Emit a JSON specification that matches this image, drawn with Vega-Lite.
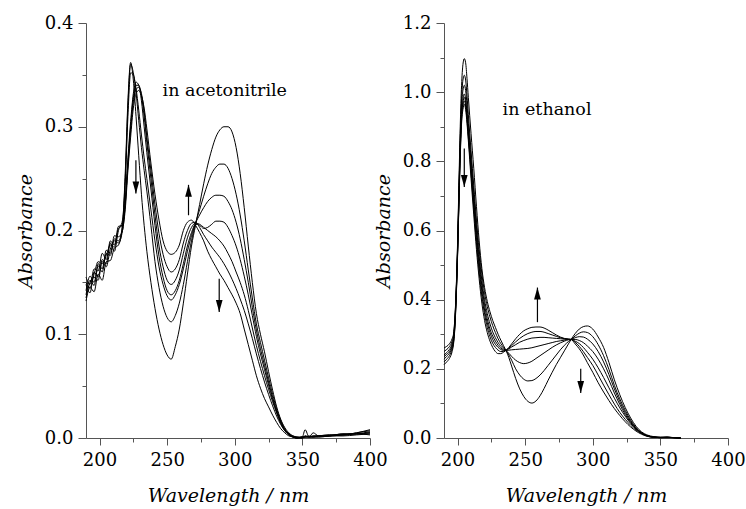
{
"$schema":"https://vega.github.io/schema/vega-lite/v6.json",
"background":"white",
"padding":{"left":16,"top":14,"right":2,"bottom":3},
"bounds":"flush",
"spacing":74,
"config":{
 "font":"DejaVu Serif",
 "view":{"stroke":null},
 "text":{"font":"DejaVu Serif"},
 "axis":{"grid":false,"domainColor":"#555","tickColor":"#555","domainWidth":1,"tickWidth":1,"labelColor":"#000","labelFont":"DejaVu Serif","labelFontSize":18,"titleFont":"DejaVu Serif","titleFontSize":19,"titleFontStyle":"italic","titleFontWeight":"normal","titleColor":"#000","labelOverlap":false,"labelFlush":false}
},
"datasets":{
"ace":[
{"wl":190,"a1":0.132,"a2":0.148,"a3":0.138,"a4":0.155,"a5":0.142,"a6":0.150,"a7":0.135},
{"wl":193,"a1":0.145,"a2":0.140,"a3":0.152,"a4":0.148,"a5":0.156,"a6":0.145,"a7":0.150},
{"wl":196,"a1":0.141,"a2":0.160,"a3":0.147,"a4":0.163,"a5":0.150,"a6":0.158,"a7":0.155},
{"wl":199,"a1":0.158,"a2":0.155,"a3":0.166,"a4":0.161,"a5":0.168,"a6":0.170,"a7":0.152},
{"wl":202,"a1":0.152,"a2":0.172,"a3":0.160,"a4":0.178,"a5":0.163,"a6":0.168,"a7":0.170},
{"wl":205,"a1":0.170,"a2":0.168,"a3":0.178,"a4":0.172,"a5":0.181,"a6":0.176,"a7":0.165},
{"wl":208,"a1":0.171,"a2":0.188,"a3":0.176,"a4":0.190,"a5":0.178,"a6":0.186,"a7":0.182},
{"wl":211,"a1":0.183,"a2":0.180,"a3":0.192,"a4":0.186,"a5":0.195,"a6":0.184,"a7":0.190},
{"wl":214,"a1":0.186,"a2":0.200,"a3":0.190,"a4":0.204,"a5":0.194,"a6":0.202,"a7":0.188},
{"wl":217,"a1":0.205,"a2":0.21,"a3":0.205,"a4":0.205,"a5":0.2,"a6":0.205,"a7":0.2},
{"wl":219,"a1":0.255,"a2":0.25,"a3":0.245,"a4":0.23,"a5":0.225,"a6":0.225,"a7":0.22},
{"wl":221,"a1":0.325,"a2":0.32,"a3":0.31,"a4":0.27,"a5":0.265,"a6":0.262,"a7":0.258},
{"wl":223,"a1":0.362,"a2":0.36,"a3":0.352,"a4":0.305,"a5":0.3,"a6":0.296,"a7":0.29},
{"wl":225,"a1":0.345,"a2":0.352,"a3":0.35,"a4":0.332,"a5":0.328,"a6":0.324,"a7":0.318},
{"wl":227,"a1":0.31,"a2":0.333,"a3":0.337,"a4":0.343,"a5":0.34,"a6":0.336,"a7":0.332},
{"wl":229,"a1":0.272,"a2":0.306,"a3":0.316,"a4":0.34,"a5":0.34,"a6":0.338,"a7":0.335},
{"wl":231,"a1":0.235,"a2":0.28,"a3":0.292,"a4":0.325,"a5":0.33,"a6":0.332,"a7":0.33},
{"wl":233,"a1":0.205,"a2":0.258,"a3":0.27,"a4":0.30,"a5":0.31,"a6":0.315,"a7":0.318},
{"wl":235,"a1":0.18,"a2":0.238,"a3":0.25,"a4":0.275,"a5":0.285,"a6":0.29,"a7":0.298},
{"wl":238,"a1":0.15,"a2":0.205,"a3":0.22,"a4":0.24,"a5":0.25,"a6":0.258,"a7":0.265},
{"wl":241,"a1":0.125,"a2":0.17,"a3":0.19,"a4":0.205,"a5":0.215,"a6":0.225,"a7":0.235},
{"wl":244,"a1":0.105,"a2":0.145,"a3":0.165,"a4":0.175,"a5":0.185,"a6":0.197,"a7":0.21},
{"wl":247,"a1":0.09,"a2":0.127,"a3":0.148,"a4":0.155,"a5":0.165,"a6":0.177,"a7":0.19},
{"wl":250,"a1":0.08,"a2":0.116,"a3":0.137,"a4":0.142,"a5":0.152,"a6":0.165,"a7":0.18},
{"wl":253,"a1":0.076,"a2":0.112,"a3":0.133,"a4":0.138,"a5":0.148,"a6":0.16,"a7":0.177},
{"wl":256,"a1":0.088,"a2":0.118,"a3":0.138,"a4":0.142,"a5":0.152,"a6":0.163,"a7":0.179},
{"wl":259,"a1":0.105,"a2":0.13,"a3":0.148,"a4":0.152,"a5":0.162,"a6":0.172,"a7":0.186},
{"wl":262,"a1":0.13,"a2":0.148,"a3":0.163,"a4":0.168,"a5":0.178,"a6":0.188,"a7":0.2},
{"wl":265,"a1":0.158,"a2":0.17,"a3":0.18,"a4":0.185,"a5":0.193,"a6":0.2,"a7":0.208},
{"wl":268,"a1":0.185,"a2":0.19,"a3":0.195,"a4":0.198,"a5":0.203,"a6":0.207,"a7":0.21},
{"wl":271,"a1":0.205,"a2":0.207,"a3":0.207,"a4":0.206,"a5":0.207,"a6":0.208,"a7":0.205},
{"wl":274,"a1":0.225,"a2":0.22,"a3":0.215,"a4":0.205,"a5":0.206,"a6":0.203,"a7":0.198},
{"wl":277,"a1":0.245,"a2":0.233,"a3":0.222,"a4":0.202,"a5":0.203,"a6":0.196,"a7":0.19},
{"wl":280,"a1":0.263,"a2":0.245,"a3":0.228,"a4":0.203,"a5":0.2,"a6":0.19,"a7":0.18},
{"wl":283,"a1":0.278,"a2":0.255,"a3":0.232,"a4":0.206,"a5":0.197,"a6":0.184,"a7":0.172},
{"wl":286,"a1":0.29,"a2":0.261,"a3":0.234,"a4":0.209,"a5":0.194,"a6":0.179,"a7":0.165},
{"wl":289,"a1":0.297,"a2":0.264,"a3":0.234,"a4":0.209,"a5":0.19,"a6":0.174,"a7":0.158},
{"wl":292,"a1":0.3,"a2":0.264,"a3":0.233,"a4":0.208,"a5":0.185,"a6":0.168,"a7":0.152},
{"wl":295,"a1":0.3,"a2":0.26,"a3":0.228,"a4":0.203,"a5":0.178,"a6":0.161,"a7":0.145},
{"wl":298,"a1":0.295,"a2":0.25,"a3":0.22,"a4":0.195,"a5":0.17,"a6":0.153,"a7":0.138},
{"wl":301,"a1":0.28,"a2":0.235,"a3":0.208,"a4":0.185,"a5":0.16,"a6":0.144,"a7":0.13},
{"wl":304,"a1":0.255,"a2":0.215,"a3":0.192,"a4":0.172,"a5":0.15,"a6":0.134,"a7":0.12},
{"wl":307,"a1":0.222,"a2":0.19,"a3":0.172,"a4":0.156,"a5":0.138,"a6":0.123,"a7":0.105},
{"wl":310,"a1":0.185,"a2":0.162,"a3":0.15,"a4":0.138,"a5":0.123,"a6":0.11,"a7":0.09},
{"wl":313,"a1":0.15,"a2":0.135,"a3":0.126,"a4":0.118,"a5":0.106,"a6":0.096,"a7":0.075},
{"wl":316,"a1":0.12,"a2":0.11,"a3":0.104,"a4":0.098,"a5":0.089,"a6":0.081,"a7":0.06},
{"wl":319,"a1":0.1,"a2":0.092,"a3":0.086,"a4":0.081,"a5":0.074,"a6":0.067,"a7":0.048},
{"wl":322,"a1":0.083,"a2":0.075,"a3":0.07,"a4":0.066,"a5":0.06,"a6":0.054,"a7":0.038},
{"wl":325,"a1":0.064,"a2":0.058,"a3":0.054,"a4":0.051,"a5":0.047,"a6":0.042,"a7":0.03},
{"wl":328,"a1":0.046,"a2":0.042,"a3":0.039,"a4":0.037,"a5":0.035,"a6":0.031,"a7":0.022},
{"wl":331,"a1":0.03,"a2":0.028,"a3":0.026,"a4":0.025,"a5":0.024,"a6":0.021,"a7":0.015},
{"wl":334,"a1":0.018,"a2":0.017,"a3":0.016,"a4":0.015,"a5":0.014,"a6":0.013,"a7":0.009},
{"wl":337,"a1":0.01,"a2":0.009,"a3":0.008,"a4":0.008,"a5":0.007,"a6":0.007,"a7":0.005},
{"wl":340,"a1":0.005,"a2":0.004,"a3":0.004,"a4":0.004,"a5":0.003,"a6":0.003,"a7":0.002},
{"wl":343,"a1":0.002,"a2":0.002,"a3":0.001,"a4":0.001,"a5":0.001,"a6":0.001,"a7":0.001},
{"wl":346,"a1":0.001,"a2":0.001,"a3":0,"a4":0,"a5":0,"a6":0,"a7":0},
{"wl":350,"a1":0.001,"a2":0,"a3":0.001,"a4":0,"a5":0.001,"a6":0,"a7":0.001},
{"wl":352,"a1":0.001,"a2":0.002,"a3":0.008,"a4":0.001,"a5":0.001,"a6":0.002,"a7":0.001},
{"wl":355,"a1":0.001,"a2":0.001,"a3":0.001,"a4":0.002,"a5":0.001,"a6":0.001,"a7":0.001},
{"wl":358,"a1":0.002,"a2":0.001,"a3":0.001,"a4":0.001,"a5":0.005,"a6":0.001,"a7":0.002},
{"wl":362,"a1":0.002,"a2":0.002,"a3":0.001,"a4":0.002,"a5":0.002,"a6":0.001,"a7":0.002},
{"wl":370,"a1":0.002,"a2":0.003,"a3":0.002,"a4":0.002,"a5":0.003,"a6":0.002,"a7":0.002},
{"wl":380,"a1":0.003,"a2":0.003,"a3":0.004,"a4":0.002,"a5":0.003,"a6":0.004,"a7":0.003},
{"wl":390,"a1":0.004,"a2":0.005,"a3":0.004,"a4":0.003,"a5":0.005,"a6":0.004,"a7":0.004},
{"wl":400,"a1":0.006,"a2":0.008,"a3":0.005,"a4":0.004,"a5":0.007,"a6":0.005,"a7":0.003}
],
"eth":[
{"wl":190,"a1":0.26,"a2":0.25,"a3":0.24,"a4":0.235,"a5":0.228,"a6":0.22,"a7":0.212},
{"wl":192,"a1":0.265,"a2":0.256,"a3":0.247,"a4":0.242,"a5":0.236,"a6":0.228,"a7":0.22},
{"wl":194,"a1":0.272,"a2":0.264,"a3":0.256,"a4":0.25,"a5":0.245,"a6":0.238,"a7":0.23},
{"wl":196,"a1":0.287,"a2":0.28,"a3":0.273,"a4":0.268,"a5":0.263,"a6":0.257,"a7":0.25},
{"wl":197,"a1":0.30,"a2":0.295,"a3":0.29,"a4":0.285,"a5":0.28,"a6":0.275,"a7":0.27},
{"wl":198,"a1":0.345,"a2":0.34,"a3":0.335,"a4":0.33,"a5":0.325,"a6":0.32,"a7":0.315},
{"wl":199,"a1":0.43,"a2":0.425,"a3":0.42,"a4":0.415,"a5":0.41,"a6":0.405,"a7":0.4},
{"wl":200,"a1":0.56,"a2":0.55,"a3":0.54,"a4":0.535,"a5":0.53,"a6":0.525,"a7":0.52},
{"wl":201,"a1":0.73,"a2":0.71,"a3":0.70,"a4":0.69,"a5":0.68,"a6":0.675,"a7":0.67},
{"wl":202,"a1":0.90,"a2":0.87,"a3":0.855,"a4":0.84,"a5":0.83,"a6":0.82,"a7":0.81},
{"wl":203,"a1":1.02,"a2":0.98,"a3":0.96,"a4":0.94,"a5":0.93,"a6":0.92,"a7":0.91},
{"wl":204,"a1":1.08,"a2":1.035,"a3":1.005,"a4":0.98,"a5":0.97,"a6":0.96,"a7":0.95},
{"wl":205,"a1":1.097,"a2":1.049,"a3":1.02,"a4":0.995,"a5":0.985,"a6":0.975,"a7":0.965},
{"wl":206,"a1":1.085,"a2":1.035,"a3":1.005,"a4":0.98,"a5":0.97,"a6":0.96,"a7":0.95},
{"wl":207,"a1":1.04,"a2":0.99,"a3":0.965,"a4":0.94,"a5":0.93,"a6":0.92,"a7":0.91},
{"wl":208,"a1":0.985,"a2":0.935,"a3":0.91,"a4":0.89,"a5":0.88,"a6":0.87,"a7":0.86},
{"wl":210,"a1":0.88,"a2":0.83,"a3":0.81,"a4":0.79,"a5":0.78,"a6":0.765,"a7":0.75},
{"wl":212,"a1":0.78,"a2":0.73,"a3":0.71,"a4":0.69,"a5":0.675,"a6":0.665,"a7":0.645},
{"wl":214,"a1":0.67,"a2":0.63,"a3":0.61,"a4":0.595,"a5":0.58,"a6":0.565,"a7":0.545},
{"wl":216,"a1":0.57,"a2":0.545,"a3":0.525,"a4":0.51,"a5":0.495,"a6":0.48,"a7":0.46},
{"wl":218,"a1":0.49,"a2":0.475,"a3":0.455,"a4":0.44,"a5":0.425,"a6":0.41,"a7":0.39},
{"wl":220,"a1":0.435,"a2":0.42,"a3":0.40,"a4":0.385,"a5":0.37,"a6":0.358,"a7":0.34},
{"wl":222,"a1":0.395,"a2":0.38,"a3":0.36,"a4":0.345,"a5":0.333,"a6":0.32,"a7":0.305},
{"wl":224,"a1":0.365,"a2":0.35,"a3":0.33,"a4":0.315,"a5":0.305,"a6":0.293,"a7":0.28},
{"wl":226,"a1":0.34,"a2":0.325,"a3":0.307,"a4":0.295,"a5":0.285,"a6":0.274,"a7":0.262},
{"wl":228,"a1":0.32,"a2":0.305,"a3":0.29,"a4":0.28,"a5":0.271,"a6":0.262,"a7":0.25},
{"wl":230,"a1":0.30,"a2":0.287,"a3":0.276,"a4":0.268,"a5":0.262,"a6":0.254,"a7":0.244},
{"wl":232,"a1":0.283,"a2":0.273,"a3":0.265,"a4":0.26,"a5":0.256,"a6":0.25,"a7":0.244},
{"wl":234,"a1":0.267,"a2":0.262,"a3":0.258,"a4":0.255,"a5":0.253,"a6":0.25,"a7":0.248},
{"wl":236,"a1":0.252,"a2":0.252,"a3":0.252,"a4":0.253,"a5":0.254,"a6":0.254,"a7":0.254},
{"wl":238,"a1":0.232,"a2":0.24,"a3":0.245,"a4":0.254,"a5":0.258,"a6":0.26,"a7":0.262},
{"wl":240,"a1":0.208,"a2":0.225,"a3":0.236,"a4":0.255,"a5":0.263,"a6":0.267,"a7":0.272},
{"wl":243,"a1":0.172,"a2":0.2,"a3":0.225,"a4":0.256,"a5":0.27,"a6":0.278,"a7":0.287},
{"wl":246,"a1":0.142,"a2":0.182,"a3":0.218,"a4":0.257,"a5":0.277,"a6":0.288,"a7":0.30},
{"wl":249,"a1":0.12,"a2":0.17,"a3":0.215,"a4":0.258,"a5":0.282,"a6":0.296,"a7":0.31},
{"wl":252,"a1":0.106,"a2":0.165,"a3":0.217,"a4":0.259,"a5":0.286,"a6":0.302,"a7":0.316},
{"wl":255,"a1":0.101,"a2":0.166,"a3":0.222,"a4":0.261,"a5":0.289,"a6":0.306,"a7":0.32},
{"wl":258,"a1":0.107,"a2":0.172,"a3":0.23,"a4":0.264,"a5":0.29,"a6":0.308,"a7":0.321},
{"wl":261,"a1":0.122,"a2":0.182,"a3":0.238,"a4":0.267,"a5":0.291,"a6":0.308,"a7":0.321},
{"wl":264,"a1":0.143,"a2":0.195,"a3":0.246,"a4":0.27,"a5":0.291,"a6":0.306,"a7":0.318},
{"wl":267,"a1":0.167,"a2":0.21,"a3":0.254,"a4":0.273,"a5":0.29,"a6":0.302,"a7":0.312},
{"wl":270,"a1":0.19,"a2":0.225,"a3":0.262,"a4":0.276,"a5":0.289,"a6":0.298,"a7":0.305},
{"wl":273,"a1":0.212,"a2":0.24,"a3":0.269,"a4":0.279,"a5":0.288,"a6":0.294,"a7":0.298},
{"wl":276,"a1":0.232,"a2":0.255,"a3":0.275,"a4":0.281,"a5":0.287,"a6":0.29,"a7":0.292},
{"wl":279,"a1":0.252,"a2":0.268,"a3":0.28,"a4":0.283,"a5":0.286,"a6":0.287,"a7":0.288},
{"wl":282,"a1":0.272,"a2":0.279,"a3":0.284,"a4":0.285,"a5":0.285,"a6":0.286,"a7":0.286},
{"wl":284,"a1":0.285,"a2":0.285,"a3":0.285,"a4":0.285,"a5":0.285,"a6":0.285,"a7":0.285},
{"wl":287,"a1":0.302,"a2":0.295,"a3":0.29,"a4":0.285,"a5":0.28,"a6":0.277,"a7":0.272},
{"wl":290,"a1":0.315,"a2":0.303,"a3":0.293,"a4":0.282,"a5":0.273,"a6":0.265,"a7":0.258},
{"wl":293,"a1":0.322,"a2":0.307,"a3":0.292,"a4":0.276,"a5":0.262,"a6":0.25,"a7":0.24},
{"wl":296,"a1":0.324,"a2":0.305,"a3":0.286,"a4":0.266,"a5":0.248,"a6":0.233,"a7":0.218},
{"wl":300,"a1":0.315,"a2":0.293,"a3":0.272,"a4":0.25,"a5":0.228,"a6":0.21,"a7":0.19},
{"wl":304,"a1":0.292,"a2":0.27,"a3":0.25,"a4":0.228,"a5":0.203,"a6":0.182,"a7":0.16},
{"wl":308,"a1":0.262,"a2":0.238,"a3":0.22,"a4":0.2,"a5":0.175,"a6":0.153,"a7":0.133},
{"wl":312,"a1":0.218,"a2":0.198,"a3":0.183,"a4":0.167,"a5":0.145,"a6":0.125,"a7":0.108},
{"wl":316,"a1":0.168,"a2":0.152,"a3":0.142,"a4":0.13,"a5":0.115,"a6":0.098,"a7":0.085},
{"wl":320,"a1":0.125,"a2":0.113,"a3":0.105,"a4":0.097,"a5":0.087,"a6":0.074,"a7":0.065},
{"wl":324,"a1":0.088,"a2":0.08,"a3":0.074,"a4":0.068,"a5":0.063,"a6":0.054,"a7":0.047},
{"wl":328,"a1":0.058,"a2":0.052,"a3":0.048,"a4":0.045,"a5":0.042,"a6":0.037,"a7":0.032},
{"wl":332,"a1":0.034,"a2":0.03,"a3":0.028,"a4":0.027,"a5":0.026,"a6":0.023,"a7":0.02},
{"wl":336,"a1":0.018,"a2":0.016,"a3":0.015,"a4":0.014,"a5":0.014,"a6":0.013,"a7":0.011},
{"wl":340,"a1":0.009,"a2":0.007,"a3":0.007,"a4":0.007,"a5":0.006,"a6":0.006,"a7":0.005},
{"wl":345,"a1":0.004,"a2":0.003,"a3":0.003,"a4":0.003,"a5":0.002,"a6":0.002,"a7":0.002},
{"wl":350,"a1":0.002,"a2":0.002,"a3":0.002,"a4":0.001,"a5":0.001,"a6":0.001,"a7":0.001},
{"wl":355,"a1":0.003,"a2":0.002,"a3":0.002,"a4":0.002,"a5":0.002,"a6":0.001,"a7":0.001},
{"wl":360,"a1":0.001,"a2":0.001,"a3":0.001,"a4":0.001,"a5":0.001,"a6":0.001,"a7":0.001},
{"wl":365,"a1":0,"a2":0,"a3":0,"a4":0,"a5":0,"a6":0,"a7":0}
],
"arrL":[
{"wl":226.9,"A":0.2677,"tip":0.2356},
{"wl":265.8,"A":0.2147,"tip":0.244},
{"wl":288.5,"A":0.1536,"tip":0.1215}
],
"headL":[
{"wl":226.9,"A":0.2356,"dir":"down"},
{"wl":265.8,"A":0.244,"dir":"up"},
{"wl":288.5,"A":0.1215,"dir":"down"}
],
"arrR":[
{"wl":205.0,"A":0.837,"tip":0.726},
{"wl":259.1,"A":0.335,"tip":0.435},
{"wl":291.1,"A":0.2,"tip":0.13}
],
"headR":[
{"wl":205.0,"A":0.726,"dir":"down"},
{"wl":259.1,"A":0.435,"dir":"up"},
{"wl":291.1,"A":0.13,"dir":"down"}
]
},
"hconcat":[
{
 "width":284,"height":415,
 "encoding":{
  "x":{"field":"wl","type":"quantitative","scale":{"domain":[190,400],"nice":false,"zero":false},
   "axis":{"title":"Wavelength / nm","values":[200,225,250,275,300,325,350,375,400],"format":"d","labelExpr":"datum.value % 50 == 0 ? datum.label : ''","tickSize":{"condition":{"test":"datum.value % 50 != 0","value":4},"value":7},"labelPadding":6,"titlePadding":17}},
  "y":{"field":"A","type":"quantitative","scale":{"domain":[0,0.4],"nice":false},
   "axis":{"title":"Absorbance","values":[0,0.05,0.1,0.15,0.2,0.25,0.3,0.35,0.4],"format":".1f","labelExpr":"abs(datum.value*10-round(datum.value*10))>0.01 ? '' : datum.label","tickSize":{"condition":{"test":"abs(datum.value*10-round(datum.value*10))>0.01","value":4},"value":8},"labelPadding":5,"titlePadding":9}}
 },
 "layer":[
  {"data":{"name":"ace"},
   "transform":[{"fold":["a1","a2","a3","a4","a5","a6","a7"],"as":["curve","A"]}],
   "mark":{"type":"line","color":"#000","strokeWidth":1,"interpolate":"monotone"},
   "encoding":{"detail":{"field":"curve","type":"nominal"}}},
  {"data":{"name":"arrL"},
   "mark":{"type":"rule","color":"#000","strokeWidth":1.2},
   "encoding":{"y2":{"field":"tip"}}},
  {"data":{"name":"headL"},
   "mark":{"type":"point","filled":true,"color":"#000","opacity":1,"size":576,"strokeWidth":0},
   "encoding":{"shape":{"field":"dir","type":"nominal","scale":{"domain":["down","up"],"range":["M-0.28,-1L0.28,-1L0,0Z","M-0.28,1L0.28,1L0,0Z"]},"legend":null}}},
  {"data":{"values":[{"wl":246.6,"A":0.330,"label":"in acetonitrile"}]},
   "mark":{"type":"text","align":"left","baseline":"alphabetic","fontSize":17.5,"color":"#000"},
   "encoding":{"text":{"field":"label"}}}
 ]
},
{
 "width":284,"height":415,
 "encoding":{
  "x":{"field":"wl","type":"quantitative","scale":{"domain":[190,400],"nice":false,"zero":false},
   "axis":{"title":"Wavelength / nm","values":[200,225,250,275,300,325,350,375,400],"format":"d","labelExpr":"datum.value % 50 == 0 ? datum.label : ''","tickSize":{"condition":{"test":"datum.value % 50 != 0","value":4},"value":7},"labelPadding":6,"titlePadding":17}},
  "y":{"field":"A","type":"quantitative","scale":{"domain":[0,1.2],"nice":false},
   "axis":{"title":"Absorbance","values":[0,0.1,0.2,0.3,0.4,0.5,0.6,0.7,0.8,0.9,1.0,1.1,1.2],"format":".1f","labelExpr":"abs(datum.value*5-round(datum.value*5))>0.01 ? '' : datum.label","tickSize":{"condition":{"test":"abs(datum.value*5-round(datum.value*5))>0.01","value":4},"value":8},"labelPadding":5,"titlePadding":9}}
 },
 "layer":[
  {"data":{"name":"eth"},
   "transform":[{"fold":["a1","a2","a3","a4","a5","a6","a7"],"as":["curve","A"]}],
   "mark":{"type":"line","color":"#000","strokeWidth":1,"interpolate":"monotone"},
   "encoding":{"detail":{"field":"curve","type":"nominal"}}},
  {"data":{"name":"arrR"},
   "mark":{"type":"rule","color":"#000","strokeWidth":1.2},
   "encoding":{"y2":{"field":"tip"}}},
  {"data":{"name":"headR"},
   "mark":{"type":"point","filled":true,"color":"#000","opacity":1,"size":576,"strokeWidth":0},
   "encoding":{"shape":{"field":"dir","type":"nominal","scale":{"domain":["down","up"],"range":["M-0.28,-1L0.28,-1L0,0Z","M-0.28,1L0.28,1L0,0Z"]},"legend":null}}},
  {"data":{"values":[{"wl":233.3,"A":0.933,"label":"in ethanol"}]},
   "mark":{"type":"text","align":"left","baseline":"alphabetic","fontSize":17.5,"color":"#000"},
   "encoding":{"text":{"field":"label"}}}
 ]
}
]
}
